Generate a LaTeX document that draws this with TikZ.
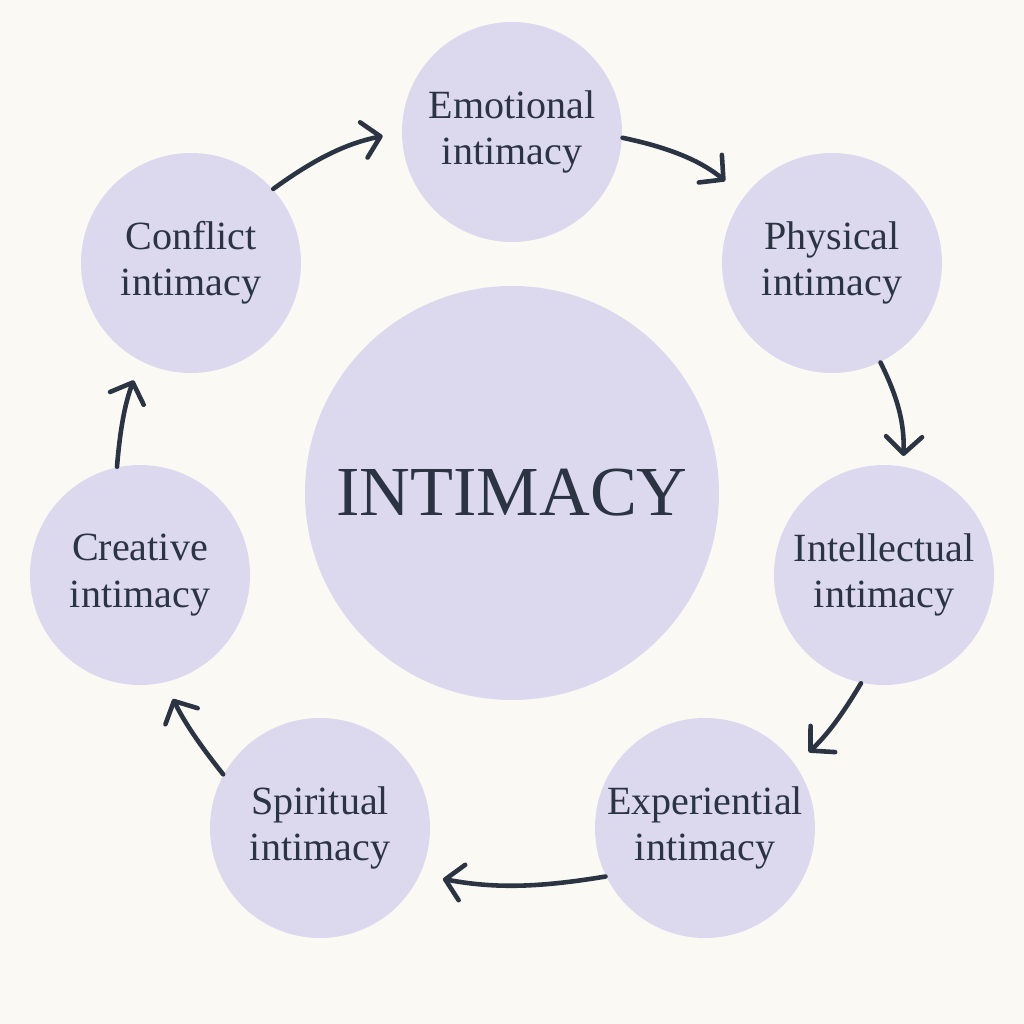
\documentclass[tikz,border=0pt]{standalone}
\usepackage{fontspec}
\setmainfont{Liberation Serif}
\usepackage{xcolor}
\usetikzlibrary{arrows.meta}
\definecolor{pagebg}{HTML}{FAF9F4}
\definecolor{lav}{HTML}{DCD9EE}
\definecolor{ink}{HTML}{2B3442}

\begin{document}
\begin{tikzpicture}[
  >={Straight Barb[length=1.7mm,width=3.6mm,round]},
  hub/.style={circle, fill=lav, text=ink, minimum size=4.14cm, inner sep=0pt,
              font=\fontsize{20}{24}\selectfont},
  kind/.style={circle, fill=lav, text=ink, minimum size=2.2cm, inner sep=0pt, align=center,
               font=\fontsize{11.4}{13.2}\selectfont},
  e/.style={->, line width=1.3pt, draw=ink, line cap=round},
]
\fill[pagebg] (0,0) rectangle (10.24,10.24);
\node[hub]  (core) at (5.12,5.31) {INTIMACY};
\node[kind] (emo)  at (5.12,8.92) {Emotional\\intimacy};
\node[kind] (phy)  at (8.32,7.61) {Physical\\intimacy};
\node[kind] (intl) at (8.84,4.49) {Intellectual\\intimacy};
\node[kind] (exp)  at (7.05,1.96) {Experiential\\intimacy};
\node[kind] (spi)  at (3.20,1.96) {Spiritual\\intimacy};
\node[kind] (cre)  at (1.40,4.49) {Creative\\intimacy};
\node[kind] (con)  at (1.91,7.61) {Conflict\\intimacy};

% clockwise ring
\draw[e, shorten >=2.4mm] (emo.-3)   to[bend left=14] (phy.143);
\draw[e, shorten >=1.0mm] (phy.-64)  to[bend left=14] (intl.80);
\draw[e, shorten >=1.8mm] (intl.-102) to[bend left=8] (exp.35);
\draw[e, shorten >=2.3mm] (exp.-154) to[bend left=10] (spi.-25);
\draw[e, shorten >=1.8mm] (spi.151)  to[bend left=6]  (cre.-77);
\draw[e, shorten >=2.0mm] (cre.102)  to[bend left=8]  (con.-117);
\draw[e, shorten >=1.9mm] (con.42)   to[bend left=12] (emo.180);
\end{tikzpicture}
\end{document}
